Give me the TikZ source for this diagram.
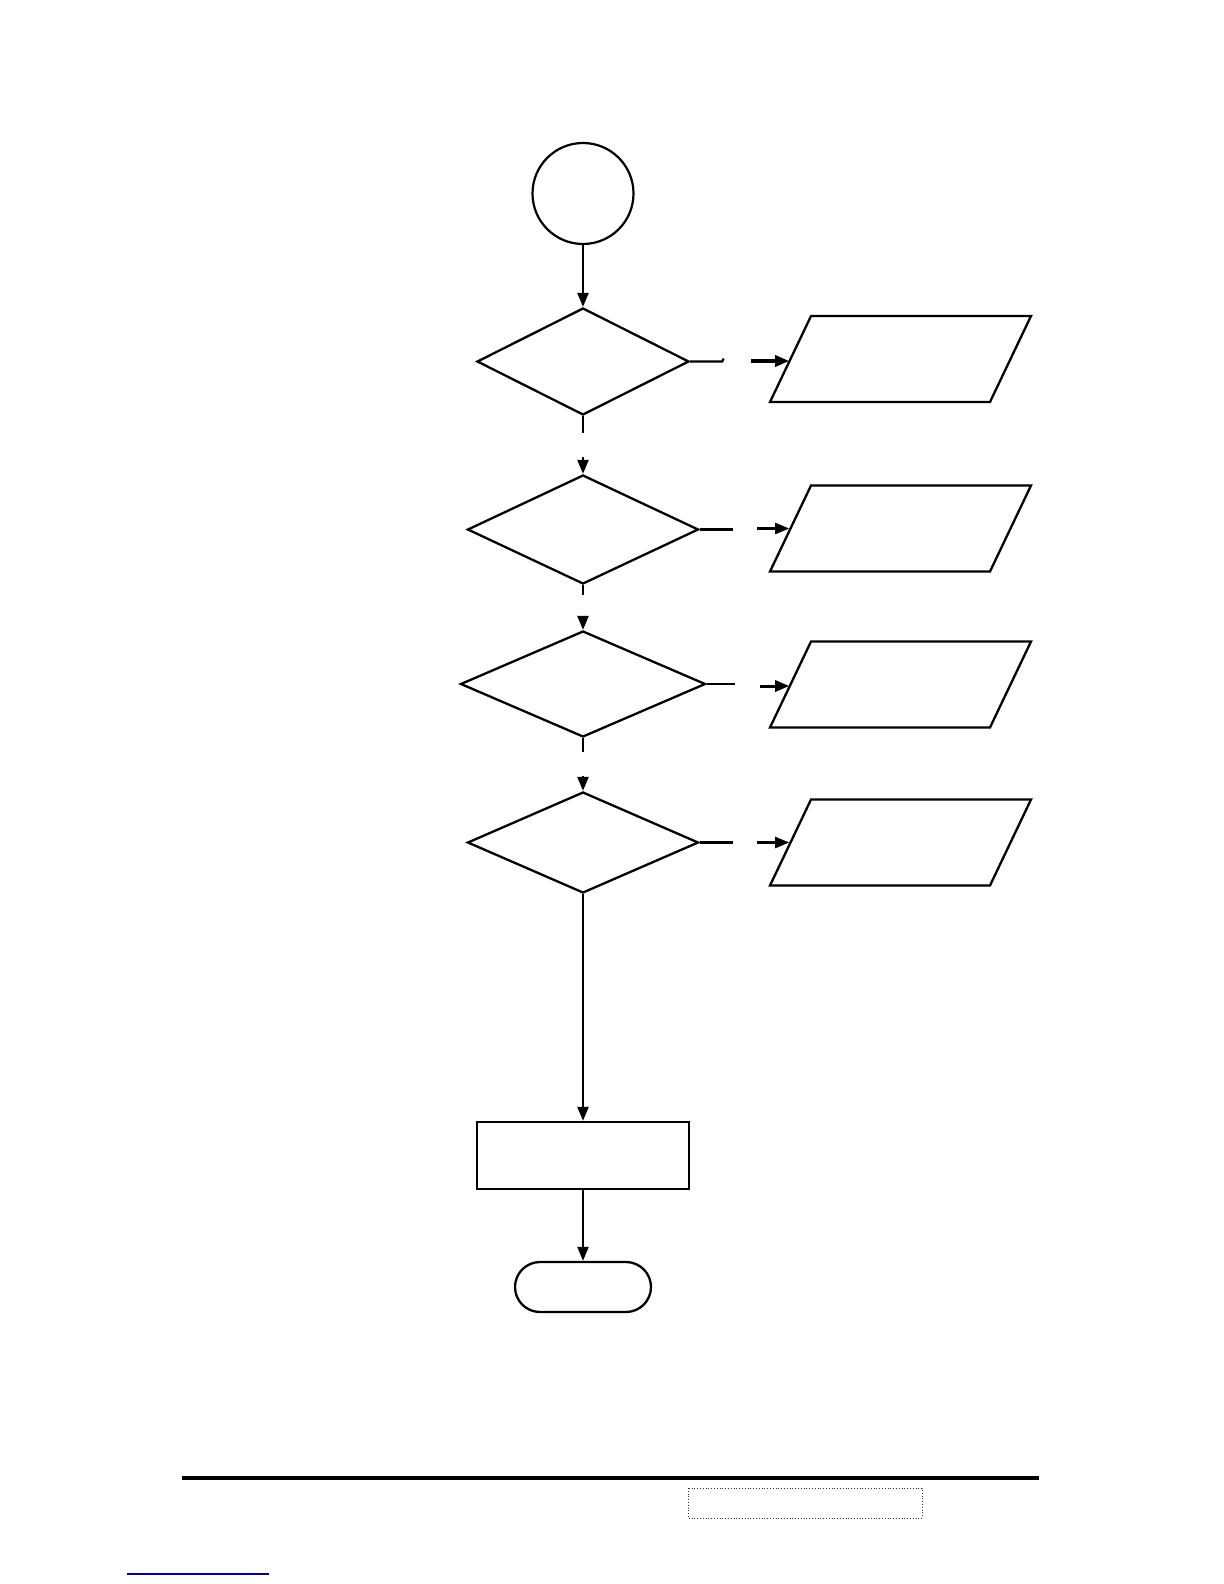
\documentclass[tikz,border=0pt]{standalone}
\usetikzlibrary{shapes.geometric, shapes.misc, arrows.meta, positioning, calc}

\begin{document}
\begin{tikzpicture}[
  x=0.5pt, y=-0.5pt,
  line width=1.15pt,
  dec/.style={diamond, draw, line width=1.15pt, inner sep=0pt},
  io/.style={trapezium, trapezium left angle=64.5, trapezium right angle=115.5,
             trapezium stretches body=true, draw, line width=1.15pt, inner sep=2pt,
             minimum width=130.5pt},
  flow/.style={-{Triangle[length=7pt,width=5.5pt]}, line width=1.15pt},
  stub/.style={line width=1.15pt}
]
  \useasboundingbox (0,0) rectangle (1224,1584);
  \def\xC{583} \def\xP{900.5}
  \def\iobox{\rule{0pt}{39pt}}

  %--- main column ---
  \node[circle, draw, line width=1.1pt, minimum size=50.5pt, inner sep=0pt]
    (start) at (\xC,193.5) {};
  \node[dec, minimum width=106pt,   minimum height=53.5pt] (d1) at (\xC,361.5) {};
  \node[dec, minimum width=115.5pt, minimum height=54.5pt] (d2) at (\xC,529.5) {};
  \node[dec, minimum width=122.5pt, minimum height=53pt]   (d3) at (\xC,684)   {};
  \node[dec, minimum width=115.5pt, minimum height=50.5pt] (d4) at (\xC,842.5) {};
  \node[rectangle, draw, minimum width=106pt, minimum height=33.5pt, inner sep=0pt]
    (act) at (\xC,1155.5) {};
  \node[rounded rectangle, draw, minimum width=68pt, minimum height=25pt, inner sep=0pt]
    (stop) at (\xC,1287) {};

  %--- output boxes ---
  \node[io] (p1) at (\xP,359)   {\iobox};
  \node[io] (p2) at (\xP,528.5) {\iobox};
  \node[io] (p3) at (\xP,684.5) {\iobox};
  \node[io] (p4) at (\xP,842.5) {\iobox};

  %--- flow down ---
  \draw[flow] (start) -- (d1);
  \draw[stub] (d1.south) -- ++(0,17);
  \draw[flow] (d2.north) ++(0,-17) -- (d2.north);
  \draw[stub] (d2.south) -- ++(0,10);
  \draw[flow] (d3.north) ++(0,-12) -- (d3.north);
  \draw[stub] (d3.south) -- ++(0,14);
  \draw[flow] (d4.north) ++(0,-15) -- (d4.north);
  \draw[flow] (d4) -- (act);
  \draw[flow] (act) -- (stop);

  %--- broken branches to the right ---
  \draw[stub] (d1.east) -- ++(32,0) -- ++(1.5,-3);
  \draw[flow, line width=1.6pt] (p1.west) ++(-38,2) -- ++(38,0);
  \draw[stub, line width=1.6pt] (d2.east) -- ++(33,0);
  \draw[flow] (p2.west) ++(-32,0) -- (p2.west);
  \draw[stub] (d3.east) -- ++(28,0);
  \draw[flow, line width=1.5pt] (p3.west) ++(-29,1.5) -- ++(29,0);
  \draw[stub] (d4.east) -- ++(33,0);
  \draw[flow] (p4.west) ++(-32,0) -- (p4.west);

  %--- page footer ---
  \draw[line width=2pt] (182,1478) -- (1039,1478);
  \draw[line width=0.4pt, densely dotted, black!80] (688,1488) rectangle (922,1518);
  \draw[line width=0.8pt, blue!50!black] (127,1574) -- (269,1574);
\end{tikzpicture}
\end{document}
